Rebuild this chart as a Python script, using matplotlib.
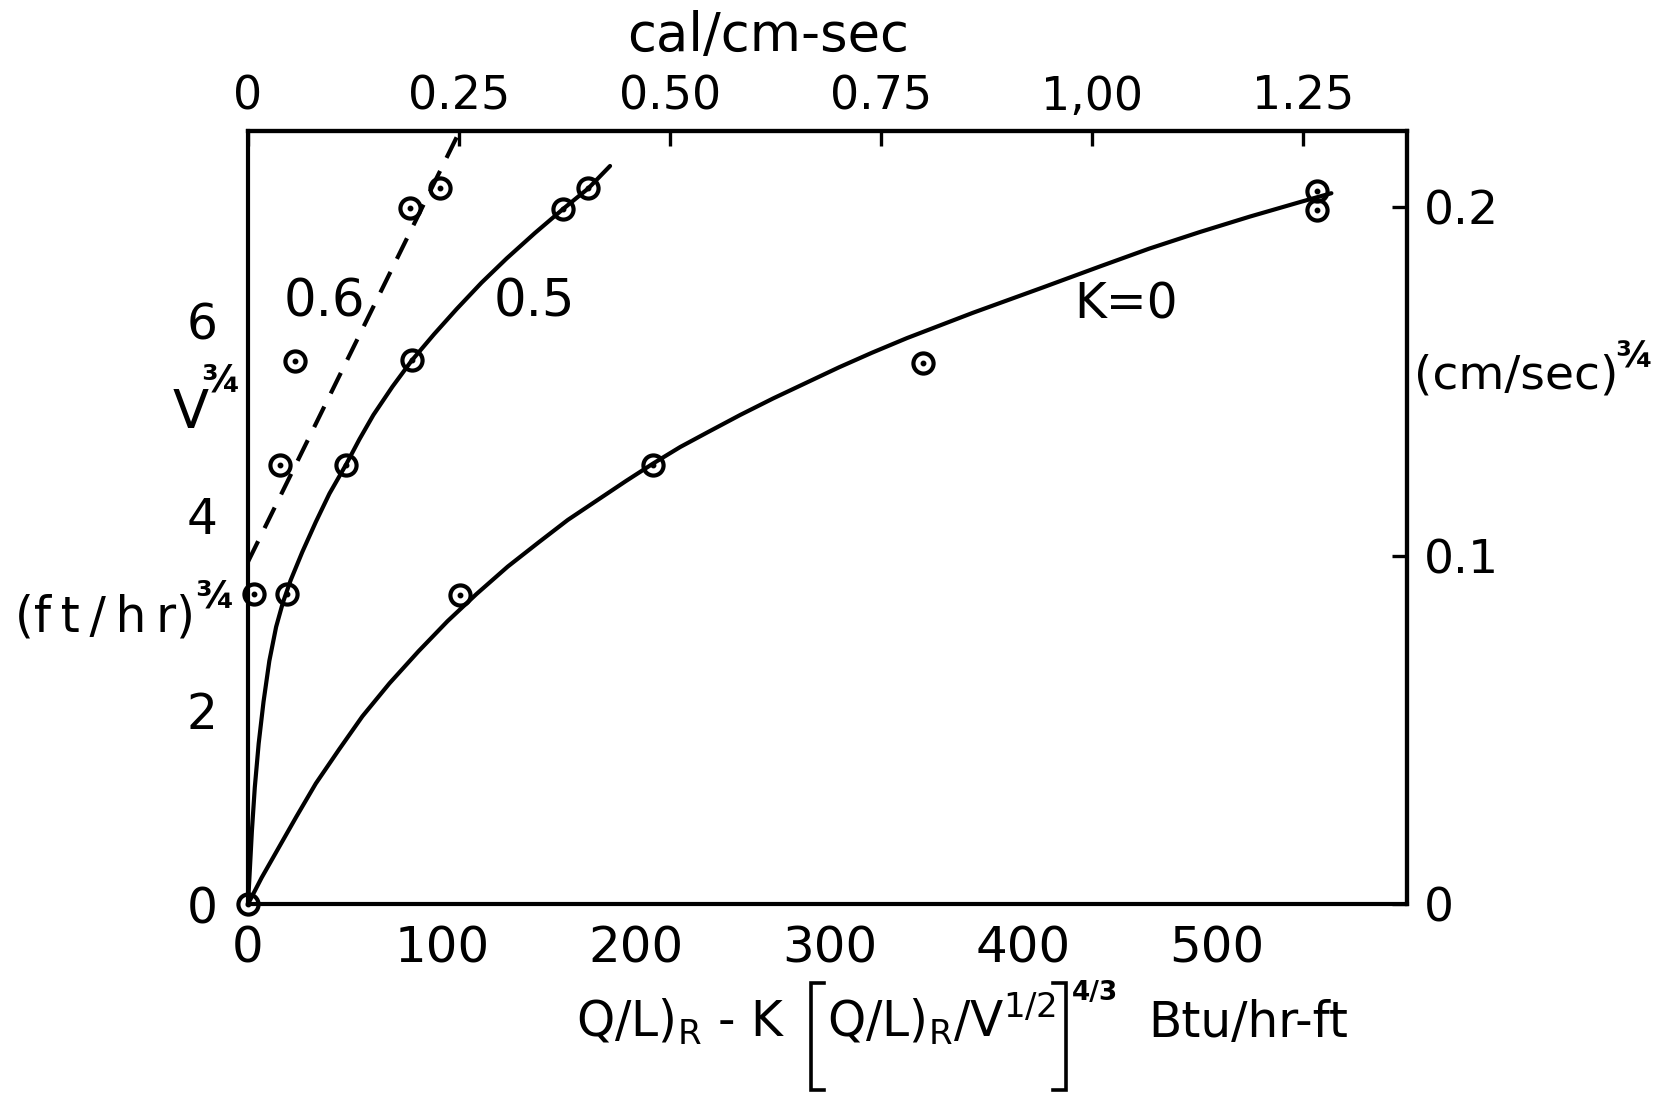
import matplotlib
matplotlib.use("Agg")
import matplotlib.pyplot as plt
from matplotlib.lines import Line2D

plt.rcParams['font.family'] = ['DejaVu Sans']
plt.rcParams['mathtext.fontset'] = 'dejavusans'
plt.rcParams['mathtext.default'] = 'regular'

# ---------------- data (x in Btu/hr-ft, y in (ft/hr)^3/4) ----------------
# measured points
k0_x = [0, 109.4, 209.2, 348.4, 551.4, 551.4]
k0_y = [0, 3.18, 4.52, 5.56, 7.33, 7.14]
k05_x = [20.2, 50.6, 84.5, 162.7, 175.6]
k05_y = [3.19, 4.52, 5.59, 7.15, 7.36]
k06_x = [2.9, 16.5, 24.3, 83.6, 99.1]
k06_y = [3.19, 4.52, 5.58, 7.16, 7.36]

# curves
k0_curve_x = [0, 7, 15, 25, 35, 47, 59, 73, 88, 103, 118, 134, 150, 165, 180,
              195, 209, 223, 237, 254, 271, 288, 305, 322, 340, 357, 374, 392,
              410, 425, 440, 465, 491, 517, 543, 559]
k0_curve_y = [0, 0.27, 0.55, 0.90, 1.24, 1.59, 1.93, 2.27, 2.60, 2.91, 3.19,
              3.47, 3.72, 3.95, 4.15, 4.35, 4.53, 4.70, 4.85, 5.03, 5.20, 5.36,
              5.52, 5.67, 5.82, 5.95, 6.08, 6.21, 6.34, 6.45, 6.56, 6.74, 6.91,
              7.07, 7.22, 7.31]
k05_curve_x = [0, 0.8, 2.0, 3.5, 5.5, 8.0, 11.0, 14.5, 18.0, 22.0, 28.0, 35.0,
               42.0, 50.6, 57.5, 64.7, 74.5, 84.5, 96.0, 107.7, 120.5, 133.5,
               148.0, 162.7, 175.6, 186.8]
k05_curve_y = [0, 0.30, 0.75, 1.20, 1.65, 2.08, 2.50, 2.85, 3.10, 3.33, 3.62,
               3.93, 4.22, 4.52, 4.78, 5.03, 5.32, 5.59, 5.86, 6.12, 6.39, 6.64,
               6.90, 7.15, 7.36, 7.59]
k06_line_x = [0, 109]
k06_line_y = [3.52, 7.94]

bottom_ticks = [0, 100, 200, 300, 400, 500]
left_ticks = [0, 2, 4, 6]
top_ticks = [0, 0.25, 0.50, 0.75, 1.00, 1.25]
top_labels = ["0", "0.25", "0.50", "0.75", "1,00", "1.25"]
right_ticks = [0, 0.1, 0.2]
right_labels = ["0", "0.1", "0.2"]

BTU_PER_CAL = 435.4          # 1 cal/cm-sec in Btu/hr-ft
VEL_FACTOR = 0.02791         # (ft/hr)^3/4 -> (cm/sec)^3/4

W, H = 1669.0, 1097.0

# ---------------- figure ----------------
fig = plt.figure(figsize=(16.69, 10.97), dpi=100)
ax = fig.add_axes([0.1486, 0.1759, 0.6944, 0.7047])
ax.set_xlim(0, 598)
ax.set_ylim(0, 7.95)

lw = 3.0
ax.plot(k0_curve_x, k0_curve_y, color='black', lw=lw, solid_capstyle='round',
        solid_joinstyle='round', clip_on=False)
ax.plot(k05_curve_x, k05_curve_y, color='black', lw=lw, solid_capstyle='round',
        solid_joinstyle='round', clip_on=False)
ax.plot(k06_line_x, k06_line_y, color='black', lw=lw, dashes=(5.5, 3.5), clip_on=False)

for xs, ys in [(k0_x, k0_y), (k05_x, k05_y), (k06_x, k06_y)]:
    ax.plot(xs, ys, linestyle='none', marker='o', ms=14.5, mfc='none', mec='black',
            mew=3.0, clip_on=False, zorder=5)
    ax.plot(xs, ys, linestyle='none', marker='o', ms=3.2, mfc='black', mec='black',
            clip_on=False, zorder=5)

for s in ax.spines.values():
    s.set_linewidth(3.0)

ax.set_xticks(bottom_ticks)
ax.set_xticklabels([str(t) for t in bottom_ticks])
ax.set_yticks(left_ticks)
ax.set_yticklabels([str(t) for t in left_ticks])
ax.tick_params(axis='x', length=0, pad=15, labelsize=36)
ax.tick_params(axis='y', length=0, pad=22, labelsize=35)

top = ax.secondary_xaxis('top', functions=(lambda x: x / BTU_PER_CAL,
                                           lambda c: c * BTU_PER_CAL))
top.set_xticks(top_ticks)
top.set_xticklabels(top_labels)
top.tick_params(direction='in', length=11, width=2.4, pad=8, labelsize=33)
top.spines['top'].set_linewidth(3.0)

right = ax.secondary_yaxis('right', functions=(lambda v: v * VEL_FACTOR,
                                               lambda c: c / VEL_FACTOR))
right.set_yticks(right_ticks)
right.set_yticklabels(right_labels)
right.tick_params(direction='in', length=11, width=2.4, pad=12, labelsize=34)
right.spines['right'].set_linewidth(3.0)

# ---------------- labels ----------------
def px(x, y):
    return (x / W, 1 - y / H)

fig.text(*px(768, 36), "cal/cm-sec", fontsize=38, ha='center', va='center')

# bottom axis label built from pieces with tall brackets
renderer = fig.canvas.get_renderer()
base_y = 1037
fs_main = 35
tA = fig.text(0, 1 - base_y / H, r"$Q/L)_R$ - K", fontsize=fs_main, va='baseline')
tB = fig.text(0, 1 - base_y / H, r"$Q/L)_R/V^{1/2}$", fontsize=fs_main, va='baseline')
tC = fig.text(0, 1 - 1000 / H, "4/3", fontsize=19, va='baseline', fontweight='bold')
tD = fig.text(0, 1 - base_y / H, "Btu/hr-ft", fontsize=fs_main, va='baseline')
wA = tA.get_window_extent(renderer).width
wB = tB.get_window_extent(renderer).width
wC = tC.get_window_extent(renderer).width
wD = tD.get_window_extent(renderer).width
gap1, gap2, gap3, gap4, gap5 = 26, 16, 10, 6, 30
total = wA + gap1 + gap2 + wB + gap3 + gap4 + wC + gap5 + wD
x0 = 962 - total / 2.0
tA.set_x(x0 / W)
xb1 = x0 + wA + gap1
tB.set_x((xb1 + gap2) / W)
xb2 = xb1 + gap2 + wB + gap3
tC.set_x((xb2 + gap4) / W)
tD.set_x((xb2 + gap4 + wC + gap5) / W)
br_top, br_bot, br_w = 983, 1090, 13
for xb, sgn in [(xb1, 1), (xb2, -1)]:
    xs = [xb + sgn * br_w, xb, xb, xb + sgn * br_w]
    ys = [br_top, br_top, br_bot, br_bot]
    fig.add_artist(Line2D([x / W for x in xs], [1 - y / H for y in ys],
                          color='black', lw=2.6, solid_joinstyle='miter',
                          transform=fig.transFigure))

fig.text(*px(191, 413), "V", fontsize=38, ha='center', va='center')
fig.text(*px(220, 382), "¾", fontsize=27, ha='center', va='center', fontweight='bold')
fig.text(*px(105, 617), "(f\u2009t\u2009/\u2009h\u2009r)", fontsize=35,
         ha='center', va='center')
fig.text(*px(214, 597), "¾", fontsize=27, ha='center', va='center', fontweight='bold')

fig.text(*px(1414, 376), "(cm/sec)", fontsize=34, ha='left', va='center')
fig.text(*px(1634, 358), "¾", fontsize=26, ha='center', va='center', fontweight='bold')

ax.text(39.5, 6.19, "0.6", fontsize=37, ha='center', va='center')
ax.text(148, 6.19, "0.5", fontsize=37, ha='center', va='center')
ax.text(453, 6.17, "K=0", fontsize=35, ha='center', va='center')

fig.savefig("out.png", dpi=100)
